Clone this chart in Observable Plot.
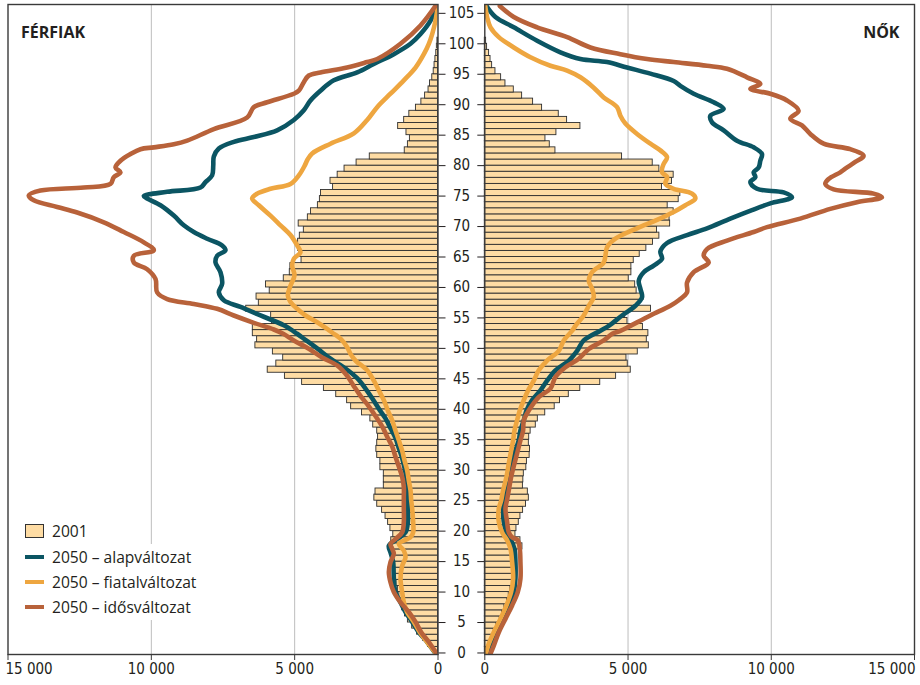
<!DOCTYPE html>
<html>
<head>
<meta charset="utf-8">
<script src="https://cdn.jsdelivr.net/npm/d3@7"></script>
<script src="https://cdn.jsdelivr.net/npm/@observablehq/plot@0.6"></script>
<style>
  body { margin: 0; background: #fff; }
  #wrap { position: relative; width: 920px; height: 685px; overflow: hidden; background: #fff; }
  #left, #right { position: absolute; top: 0; }
  #left { left: 0; }
  #right { left: 475px; }
  #left svg, #right svg { overflow: visible; }
  .lgbg { position: absolute; left: 18px; top: 544px; width: 195px; height: 76px; background: #fff; }
  .sw { position: absolute; left: 25px; width: 19px; }
  .box { top: 524px; height: 14px; background: #FEDCA4; border: 1px solid #333; box-sizing: border-box; }
  .ln { height: 4px; }
  .lab { position: absolute; left: 52px; height: 22px; line-height: 22px; font-family: "Open Sans", "Noto Sans", sans-serif; font-size: 15.6px; color: #231f20; white-space: nowrap; }
</style>
</head>
<body>
<div id="wrap">
  <div id="left"></div>
  <div id="right"></div>
  <div class="lgbg"></div>
  <div class="sw box"></div><div class="lab" style="top:520px">2001</div>
  <div class="sw ln" style="top:555px;background:#0B5563"></div><div class="lab" style="top:546px">2050 – alapváltozat</div>
  <div class="sw ln" style="top:580px;background:#EEA640"></div><div class="lab" style="top:571px">2050 – fiatalváltozat</div>
  <div class="sw ln" style="top:605px;background:#B8623A"></div><div class="lab" style="top:596px">2050 – idősváltozat</div>
</div>
<script>
// ---------- DATA ----------
const ages = d3.range(0, 101);
const ageTicks = [0,5,10,15,20,25,30,35,40,45,50,55,60,65,70,75,80,85,90,95,100,105];
const valueTicks = [0, 5000, 10000, 15000];

// 2001, men (ages 0..100)
const ferfi2001 = [
  150,350,520,730,900,1050,1150,1250,1300,1350,
  1400,1450,1480,1500,1500,1550,1600,1650,1630,1560,
  1660,1740,1830,1950,2120,2220,2180,1890,1890,1890,
  2010,2010,2120,2150,2120,2090,2120,2260,2360,2650,
  3030,3170,3550,3980,4740,5340,5940,5640,5400,5760,
  6370,6310,6460,6460,5790,5820,6690,6250,6330,5870,
  6000,5380,5170,5150,4760,4830,4880,4880,4820,4680,
  4860,4540,4430,4190,4120,4080,3660,3750,3500,3260,
  2840,2380,1160,1050,980,1100,1390,1180,1000,770,
  580,450,330,280,200,150,120,90,60,40,
  20];

// 2001, women (ages 0..100)
const no2001 = [
  47,140,220,314,407,523,605,686,779,837,
  895,954,989,1012,1035,1070,1128,1314,1244,1070,
  1105,1186,1244,1337,1440,1537,1502,1330,1345,1362,
  1450,1470,1565,1578,1537,1550,1600,1780,1851,2110,
  2440,2625,2932,3333,4030,4584,5095,4990,4945,5340,
  5725,5655,5710,5520,4980,4900,5800,5380,5550,5300,
  5250,5024,5117,5117,5199,5408,5640,5873,6094,6012,
  6470,6450,6593,6384,6768,6826,6187,6535,6593,6094,
  5862,4792,2466,2268,2117,2500,3338,2873,2582,2000,
  1686,1303,1012,721,570,372,256,200,150,80,
  46];

// 2050 projections, [age, value]
const ferfiAlap = [[106.4,20],[103.8,260],[101.6,610],[100,960],[98.3,1541],[96.7,2239],[95.3,2820],[94,3634],[92.3,4100],[90.7,4449],[89.1,4681],[87.5,5030],[85.8,5612],[84.7,6425],[83.9,7123],[82.8,7646],[81.5,7820],[80,7840],[78.4,7879],[77.3,8111],[76.4,8286],[75.7,9448],[75,10262],[74.6,10146],[73.5,9681],[71.8,9216],[70.2,8867],[69.1,8518],[68,8053],[66.9,7530],[66.1,7414],[65.2,7704],[64.1,7762],[62.5,7588],[60.6,7530],[59.2,7646],[57.9,7472],[56.8,6890],[55.4,6193],[53.8,5379],[52.4,4914],[51.3,4600],[50,4216],[48.3,3750],[46.7,3227],[45.1,2820],[43.4,2530],[41.8,2297],[40.1,2064],[38.5,1832],[36.9,1657],[35.3,1483],[33.6,1366],[32,1250],[30.4,1168],[28.7,1099],[27.1,1052],[25.5,1052],[23.7,1052],[21.5,1052],[19.8,1134],[18.7,1424],[17.6,1715],[16.5,1657],[14.9,1564],[12.2,1541],[10,1483],[8.3,1308],[6.7,1134],[5.1,901],[3.4,669],[1.8,378],[0,100]];
const ferfiFiatal = [[106.4,0],[103.8,87],[101.6,203],[100,320],[98.3,494],[96.1,784],[94,1192],[91.8,1657],[89.6,2122],[87.5,2471],[85.3,2936],[83.6,3750],[82,4390],[81,4550],[80,4650],[78.4,4855],[77,5146],[76.2,5844],[75.4,6309],[74.6,6484],[73.5,6251],[71.8,5844],[70.2,5495],[68.6,5146],[66.9,4914],[65.8,4797],[64.7,5030],[63.6,5088],[62,5006],[60.3,5146],[58.7,5239],[57.6,5146],[56.5,4914],[55.4,4623],[54.3,4216],[53.2,3867],[52.4,3634],[51.6,3402],[50.2,3170],[49.1,3053],[48,2878],[46.4,2471],[44.7,2239],[43.1,2064],[41.5,1890],[39.8,1750],[38.2,1599],[36.5,1483],[34.9,1366],[33.2,1250],[31.6,1168],[30,1076],[28.3,1018],[26.7,959],[25.1,936],[23.7,901],[21.5,866],[19.8,866],[19,959],[17.9,1366],[16.8,1192],[15.7,1134],[14.3,1250],[12.2,1308],[10,1250],[8.3,1192],[6.7,1076],[5.1,843],[3.4,634],[1.8,378],[0,80]];
const ferfiIdos = [[106.4,60],[103,610],[100,1308],[97.5,2122],[97,2471],[96.1,3170],[95.3,4100],[94.8,4507],[93.7,4681],[92.3,4855],[91.8,5030],[90.4,5960],[89.6,6425],[87.9,6658],[86,7820],[84.1,8750],[83.5,9216],[83,9913],[82.7,10378],[81.9,10727],[80.8,11077],[79.7,11251],[78.9,11077],[78.1,11310],[77,11426],[76.4,12356],[75.9,13868],[75.1,14275],[74.3,14100],[73.2,13286],[72.3,12588],[70.7,11658],[69.1,10960],[67.4,10262],[66.1,9913],[65.2,10611],[64.1,10611],[63,10146],[61.4,9855],[59.2,9797],[58.1,9448],[57.3,8518],[56.5,7704],[55.4,7123],[54.2,6425],[53.1,5728],[52.4,5400],[51.3,5030],[50.1,4565],[48.5,4041],[47.2,3518],[45.5,3170],[43.8,2936],[42.2,2704],[40.5,2413],[38.9,2180],[37.2,1948],[35.5,1773],[33.9,1599],[32.2,1483],[30.6,1366],[28.9,1250],[27.2,1192],[25.6,1192],[23.7,1192],[21.5,1192],[19.8,1250],[18.7,1483],[17.9,1657],[17.1,1599],[16.3,1541],[14.9,1657],[13.3,1715],[11.6,1657],[10,1541],[8.3,1308],[6.7,1015],[5.1,784],[3.4,587],[1.8,320],[0,60]];

const noAlap = [[106.4,30],[104.4,372],[102.7,1012],[100.5,1826],[98.6,2640],[97.5,3338],[97,4268],[96.1,4966],[95.1,5780],[93.9,6594],[93.1,6827],[91.8,7292],[90.4,7990],[89.3,8339],[88.2,7874],[87.1,7932],[85.8,8339],[84.1,8804],[83,9386],[81.9,9676],[80.8,9618],[79.7,9560],[78.9,9386],[78.1,9444],[77.3,9269],[76.2,9502],[75.6,10432],[74.8,10723],[73.8,9967],[72.7,9327],[71.3,8571],[69.7,7757],[68.6,7059],[67.3,6362],[65.9,6129],[64.7,6187],[63.6,5896],[62.5,5548],[61.1,5373],[59.8,5431],[58.4,5489],[57,5257],[55.4,4792],[53.7,4326],[52.9,4036],[51.3,3454],[49.6,3222],[48,2931],[46.4,2466],[44.7,2175],[43.1,1942],[41.5,1651],[39.8,1454],[38.2,1361],[36.5,1244],[34.9,1186],[33.2,1070],[31.1,954],[28.9,837],[26.7,721],[25,663],[23.7,640],[21.5,663],[19.8,756],[18.5,919],[17.1,1035],[14.9,1070],[12.2,1070],[10,1012],[7.8,837],[5.6,605],[3.4,372],[1.2,174],[0,100]];
const noFiatal = [[106.4,10],[104.4,81],[102.7,198],[101.1,489],[99.4,1012],[97.8,1593],[96.4,2291],[95.6,2873],[94.5,3338],[92.8,3803],[91.2,4152],[89.6,4617],[88.2,4733],[86.9,4908],[85.2,5315],[83.6,5780],[82.5,6129],[81.4,6362],[80.3,6245],[79.5,6187],[78.9,6187],[78.1,6362],[77,6303],[76.2,6594],[75.4,7234],[74.6,7350],[73.5,7001],[72.4,6594],[71.1,6013],[69.7,5315],[68,4559],[66.6,4268],[65.2,4210],[64.1,4152],[62.5,3745],[61.1,3629],[59.8,3745],[58.4,3803],[57,3629],[55.4,3454],[53.7,3163],[52.9,3050],[51.3,2756],[49.6,2582],[48,2175],[46.4,1884],[44.7,1710],[43.1,1512],[41.5,1361],[39.8,1221],[38.2,1128],[36.5,1035],[34.9,989],[33.2,919],[31.1,837],[28.9,756],[26.7,640],[25,570],[23.7,489],[21.5,489],[19.8,605],[18.5,779],[17.1,896],[14.9,954],[12.2,989],[10,919],[7.8,756],[5.6,547],[3.4,314],[1.2,116],[0,50]];
const noIdos = [[106.2,523],[104.4,1012],[102.7,1826],[101.1,2873],[99.4,3687],[98.3,4733],[97.5,5664],[97,6594],[96.4,7757],[95.9,8455],[94.5,9153],[93.4,9618],[92.6,9269],[91.8,9967],[90.7,10548],[89,10955],[87.7,10665],[86.6,11072],[85.2,11363],[83.6,11828],[82.7,12758],[81.6,13223],[80.6,12933],[79.5,12584],[78.9,12409],[77.8,12002],[77,11886],[76.1,12177],[75.4,13572],[74.8,13863],[74,12991],[72.9,12060],[71.3,11013],[69.9,9851],[69.1,9385],[67.7,8455],[66.3,7757],[65.2,7641],[64.1,7815],[62.5,7292],[60.8,7059],[59.2,7059],[57.9,6769],[57,6478],[55.4,5780],[53.7,5082],[52.9,4750],[52.4,4450],[51.3,4152],[49.9,3629],[48.3,3280],[46.9,2814],[45.3,2466],[43.4,2291],[42,1884],[39.8,1535],[38.2,1361],[36.5,1337],[34.9,1244],[33.2,1151],[31.1,1035],[28.9,919],[26.7,837],[25,770],[23.7,721],[21.5,779],[19.8,837],[19,954],[18.5,1151],[17.1,1221],[14.9,1244],[12.2,1244],[10,1151],[7.8,954],[5.6,721],[3.4,489],[1.2,314],[0,210]];

// ---------- STYLE ----------
const C = { bar: "#FEDCA4", barStroke: "#2e2e2e", alap: "#0B5563", fiatal: "#EEA640", idos: "#B8623A", grid: "#bdbdbd", frame: "#3a3a3a", text: "#231f20" };
const narrow = '"Liberation Sans Narrow", "Arial Narrow", "DejaVu Sans Condensed", sans-serif';
const sans = '"Open Sans", "Noto Sans", sans-serif';
const fmt = v => v === 0 ? "0" : d3.format(",")(v).replace(/,/g, " ");
const yDomain = [-0.25, 106.45];

function lineMarks(alap, fiatal, idos) {
  const common = { x: d => d[1], y: d => d[0], strokeWidth: 4.6, curve: "catmull-rom", strokeLinejoin: "round", strokeLinecap: "round", clip: true };
  return [
    Plot.line(alap, { ...common, stroke: C.alap }),
    Plot.line(fiatal, { ...common, stroke: C.fiatal }),
    Plot.line(idos, { ...common, stroke: C.idos })
  ];
}

function bars(values) {
  return values.map((v, i) => ({ age: ages[i], age2: ages[i] + 1, v }));
}

const left = Plot.plot({
  width: 475, height: 685,
  marginLeft: 7.5, marginRight: 37.5, marginTop: 4, marginBottom: 31,
  x: { domain: [15000, 0], label: null },
  y: { domain: yDomain, label: null },
  style: { background: "transparent", overflow: "visible", color: C.text },
  marks: [
    Plot.ruleX([5000, 10000], { stroke: C.grid, strokeWidth: 1 }),
    Plot.rectX(bars(ferfi2001), { x1: 0, x2: "v", y1: "age", y2: "age2", fill: C.bar, stroke: C.barStroke, strokeWidth: 0.9 }),
    ...lineMarks(ferfiAlap, ferfiFiatal, ferfiIdos),
    Plot.frame({ stroke: C.frame, strokeWidth: 1.4 }),
    Plot.axisX({ ticks: valueTicks, tickSize: 6, tickFormat: () => "", label: null, stroke: C.frame }),
    Plot.text([10000, 5000, 0], { x: d => d, text: fmt, frameAnchor: "bottom", dy: 19, fontSize: 15, fontFamily: narrow, fill: C.text }),
    Plot.text([15000], { x: d => d, text: fmt, frameAnchor: "bottom", dy: 19, dx: -2.5, textAnchor: "start", fontSize: 15, fontFamily: narrow, fill: C.text }),
    Plot.axisY({ anchor: "right", ticks: ageTicks, tickSize: 7, tickPadding: 16.5, textAnchor: "middle", fontSize: 15, fontFamily: narrow, label: null, color: C.text }),
    Plot.text(["FÉRFIAK"], { frameAnchor: "top-left", dx: 13, dy: 22, textAnchor: "start", fontWeight: "bold", fontSize: 16, fontFamily: sans, fill: C.text })
  ]
});

const right = Plot.plot({
  width: 445, height: 685,
  marginLeft: 9.3, marginRight: 6, marginTop: 4, marginBottom: 31,
  x: { domain: [0, 15000], label: null },
  y: { domain: yDomain, label: null },
  style: { background: "transparent", overflow: "visible", color: C.text },
  marks: [
    Plot.ruleX([5000, 10000], { stroke: C.grid, strokeWidth: 1 }),
    Plot.rectX(bars(no2001), { x1: 0, x2: "v", y1: "age", y2: "age2", fill: C.bar, stroke: C.barStroke, strokeWidth: 0.9 }),
    ...lineMarks(noAlap, noFiatal, noIdos),
    Plot.frame({ stroke: C.frame, strokeWidth: 1.4 }),
    Plot.axisX({ ticks: valueTicks, tickSize: 6, tickFormat: () => "", label: null, stroke: C.frame }),
    Plot.text([0, 5000, 10000], { x: d => d, text: fmt, frameAnchor: "bottom", dy: 19, fontSize: 15, fontFamily: narrow, fill: C.text }),
    Plot.text([15000], { x: d => d, text: fmt, frameAnchor: "bottom", dy: 19, dx: 1, textAnchor: "end", fontSize: 15, fontFamily: narrow, fill: C.text }),
    Plot.axisY({ anchor: "left", ticks: ageTicks, tickSize: 7, tickFormat: () => "", label: null, color: C.text }),
    Plot.text(["NŐK"], { frameAnchor: "top-right", dx: -15, dy: 22, textAnchor: "end", fontWeight: "bold", fontSize: 16, fontFamily: sans, fill: C.text })
  ]
});

document.getElementById("left").appendChild(left);
document.getElementById("right").appendChild(right);
</script>
</body>
</html>
